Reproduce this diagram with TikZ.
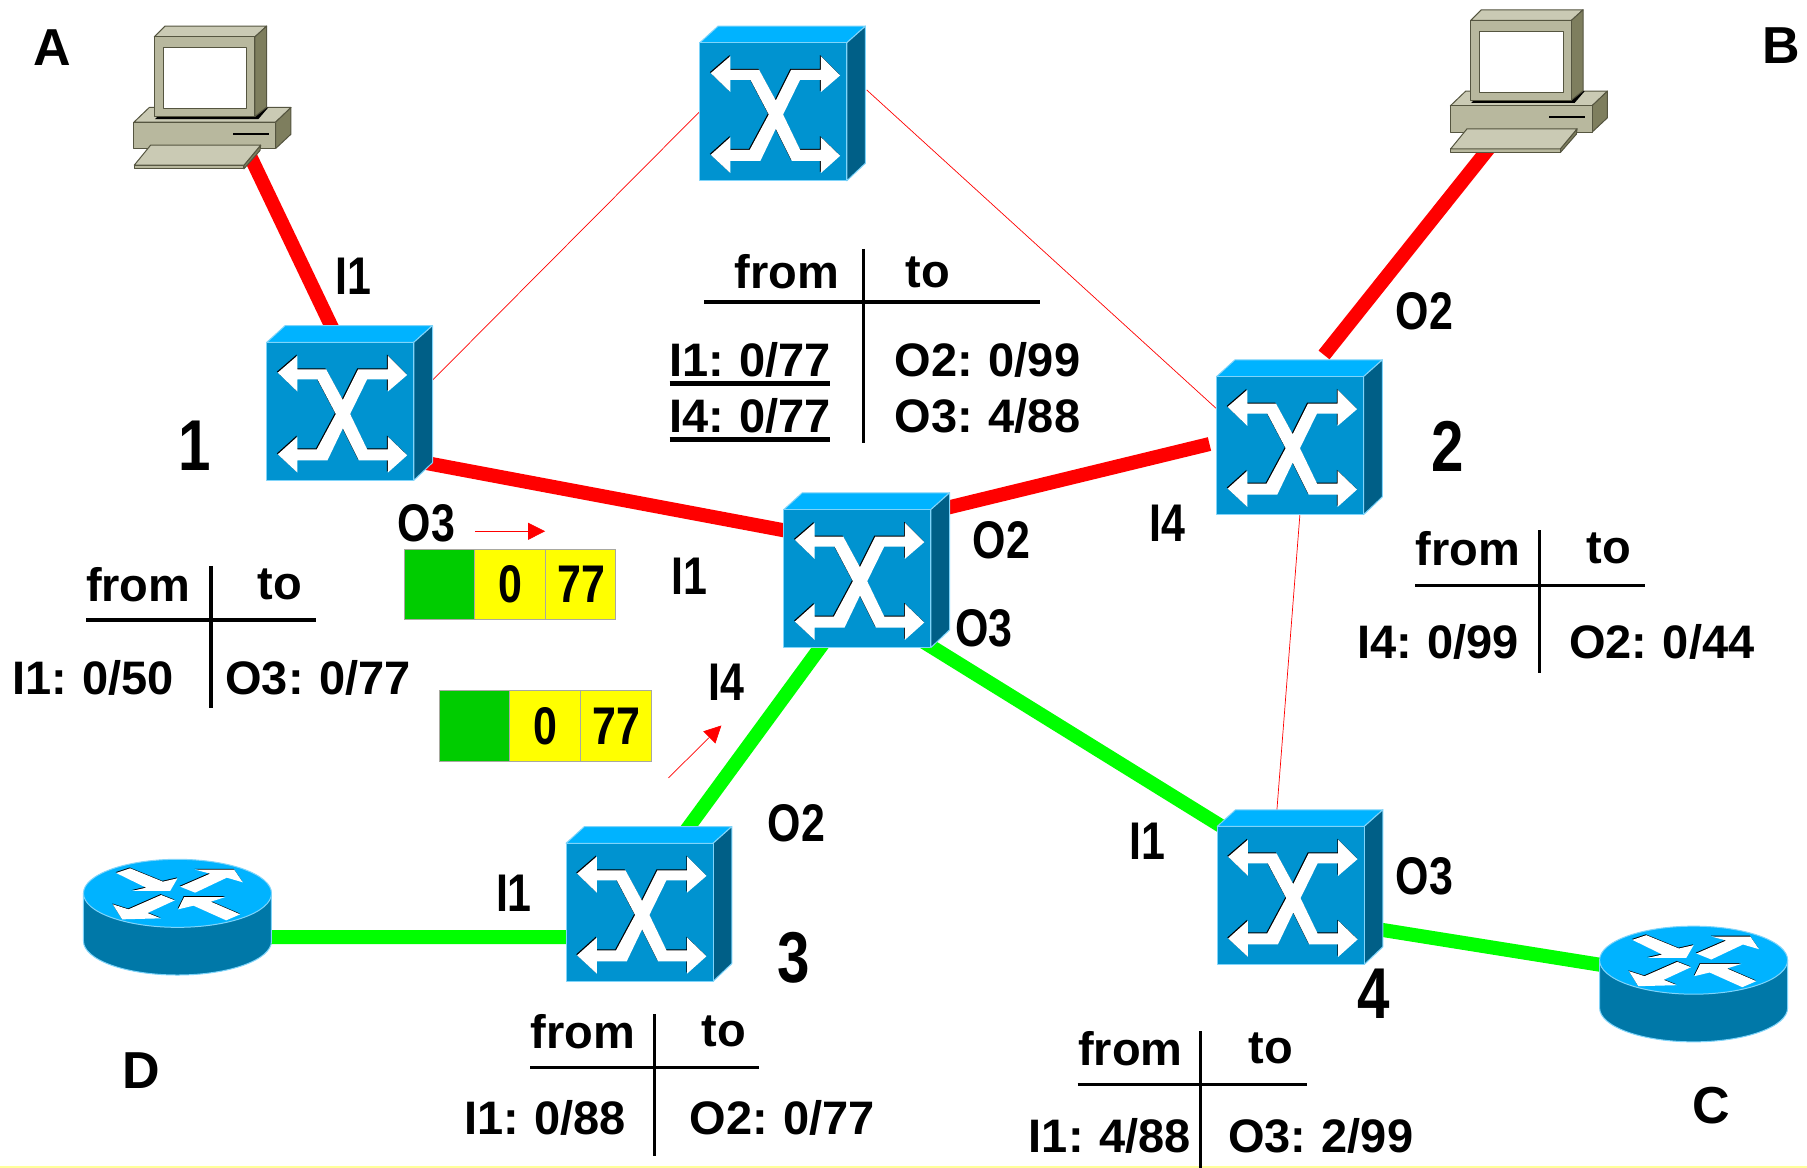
\documentclass[tikz,border=0pt]{standalone}
\usepackage{fontspec}
\usepackage{graphicx}
\setmainfont{Liberation Sans}
\usetikzlibrary{arrows.meta}
\pgfdeclarelayer{bg}
\pgfsetlayers{bg,main}
\definecolor{swfront}{HTML}{0093D0}
\definecolor{swtop}{HTML}{00B3FF}
\definecolor{swside}{HTML}{005F87}
\definecolor{swedge}{HTML}{7FD4FA}
\definecolor{rtbody}{HTML}{0078A8}
\definecolor{pctop}{HTML}{CACAB4}
\definecolor{pcfront}{HTML}{B8B89E}
\definecolor{pcside}{HTML}{7E7E5E}
\definecolor{pcedge}{HTML}{555540}
\definecolor{cellgreen}{HTML}{00CC00}
\definecolor{cellyellow}{HTML}{FFFF00}
\definecolor{cellborder}{HTML}{A8A8A0}
\definecolor{linkgreen}{HTML}{00FF00}
\definecolor{stripyellow}{HTML}{FFFF99}
\tikzset{
  iconbox/.style={inner sep=0pt,outer sep=0pt,minimum width=147pt,minimum height=138pt},
  redlink/.style={draw=red,line width=14pt},
  greenlink/.style={draw=linkgreen,line width=14pt},
  thinlink/.style={draw=red,line width=0.7pt},
  flowarrow/.style={draw=red,line width=0.7pt,-{Triangle[length=17pt,width=17pt]}},
  tablerule/.style={draw=black,line width=3.3pt},
  underrule/.style={draw=black,line width=5pt},
  cell/.style={draw=cellborder,line width=1pt,inner sep=0pt,minimum width=70.6pt,minimum height=70.6pt,font=\celltext},
  tabletext/.style={inner sep=0pt,font=\tabfont,xshift=1.1pt},
  lab/.style={inner sep=0pt,font=\labfont,xshift=1.1pt},
  bignum/.style={inner sep=0pt,font=\bigfont,xshift=1.1pt},
  corner/.style={inner sep=0pt,font=\cornerfont,xshift=0.8pt},
}
\newcommand{\tabfont}{\fontsize{47}{50}\selectfont\bfseries\spaceskip=.235em\relax}
\newcommand{\labfont}{\fontsize{53}{56}\selectfont\bfseries}
\newcommand{\celltext}{\fontsize{53}{56}\selectfont\bfseries}
\newcommand{\bigfont}{\fontsize{72}{76}\selectfont\bfseries}
\newcommand{\cornerfont}{\fontsize{52}{54}\selectfont\bfseries}
\newcommand{\sq}[1]{\scalebox{0.81}[1]{#1}}
\newcommand{\cl}[1]{\raisebox{-1.2pt}{\hspace{1pt}\scalebox{0.81}[1]{#1}}}
% switch icon drawn round a node's centre
\newcommand{\SW}[3]{%
  \node[iconbox] (#1) at (#2,#3) {};
  \begin{scope}[shift={(#2,#3)},scale=0.2893,shift={(-300.5,-334)},line join=round]
    \fill[swtop,draw=swedge,line width=1pt] (80,127)--(135,77)--(577,77)--(521,127)--cycle;
    \fill[swside,draw=swedge,line width=1pt] (521,127)--(577,77)--(577,488)--(521,541)--cycle;
    \fill[swfront,draw=swedge,line width=1pt] (80,127) rectangle (521,541);
    \fill[black,shift={(-2.5,-3)}] \swpoly;
    \fill[white] \swpoly;
  \end{scope}}
\def\swpoly{(113,218)--(172,167)--(172,208)--(258,208)--(308,300)--(354,208)--(443,208)--(443,167)--(501,225)--(443,275)--(443,238)--(381,238)--(330,342)--(381,448)--(443,448)--(443,410)--(501,466)--(443,518)--(443,481)--(356,481)--(308,385)--(262,481)--(172,481)--(172,518)--(113,463)--(172,410)--(172,448)--(230,448)--(287,342)--(232,238)--(172,238)--(172,275)--cycle}
% computer icon
\newcommand{\PC}[3]{%
  \node[inner sep=0pt,outer sep=0pt,minimum width=158pt,minimum height=143pt] (#1) at (#2,#3) {};
  \begin{scope}[shift={(#2,#3)},scale=0.2893,shift={(-308,-261)},line join=round,draw=pcedge,line width=1pt]
    \filldraw[fill=pctop] (72,335)--(118,291)--(543,291)--(497,335)--cycle;
    \filldraw[fill=pcside] (497,335)--(543,291)--(543,371)--(497,414)--cycle;
    \filldraw[fill=pcfront] (72,335) rectangle (497,414);
    \fill[black] (135,326)--(160,300)--(475,291)--(445,326)--cycle;
    \filldraw[fill=pctop] (133,79)--(165,47)--(470,47)--(435,79)--cycle;
    \filldraw[fill=pcside] (435,79)--(470,47)--(470,290)--(435,318)--cycle;
    \filldraw[fill=pcfront] (133,79) rectangle (435,318);
    \filldraw[fill=white] (160,111) rectangle (410,295);
    \fill[black] (369,367) rectangle (477,373);
    \filldraw[fill=pcside] (402,464)--(452,404)--(450,420)--(402,475)--cycle;
    \filldraw[fill=pcfront] (73,464) rectangle (402,475);
    \filldraw[fill=pctop] (73,464)--(122,404)--(452,404)--(402,464)--cycle;
  \end{scope}}
% router icon
\newcommand{\rtarrow}[1]{\fill[black,shift={(-1.5,-2.5)}] #1; \fill[white] #1;}
\newcommand{\RT}[3]{%
  \node[inner sep=0pt,outer sep=0pt,minimum width=188pt,minimum height=115pt] (#1) at (#2,#3) {};
  \begin{scope}[shift={(#2,#3)},scale=0.2893,shift={(-352,-229)},line join=round]
    \fill[rtbody,draw=swedge,line width=1pt] (70,157)--(70,300) arc[start angle=180,end angle=0,x radius=282,y radius=102]--(634,157)--cycle;
    \fill[swtop,draw=swedge,line width=1pt] (352,157) ellipse[x radius=282,y radius=102];
    \rtarrow{(168,96)--(210,82)--(308,122)--(352,112)--(330,150)--(215,150)--(258,140)--cycle}
    \rtarrow{(360,137)--(450,98)--(405,86)--(522,86)--(548,124)--(500,110)--(405,155)--cycle}
    \rtarrow{(158,190)--(205,205)--(303,162)--(344,178)--(262,216)--(302,232)--(186,235)--cycle}
    \rtarrow{(354,205)--(372,168)--(496,168)--(452,182)--(540,220)--(498,238)--(400,194)--cycle}
  \end{scope}}
\newcommand{\conn}[5][redlink]{%
  \begin{pgfonlayer}{bg}
    \draw[#1] ([shift={(#3)}]#2.center) -- ([shift={(#5)}]#4.center);
  \end{pgfonlayer}}
\begin{document}
\begin{tikzpicture}[x=1.15242pt,y=-1.15242pt]
\useasboundingbox (0,0) rectangle (1568,1013.5);
\begin{pgfonlayer}{bg}
\fill[white] (0,0) rectangle (1568,1013.5);
\fill[stripyellow] (0,1011.6) rectangle (1568,1013.5);
\end{pgfonlayer}
% icons
\PC{pca}{184.5}{84.6}
\PC{pcb}{1326.8}{70.4}
\SW{swt}{671}{97}
\SW{swa}{295.3}{356.9}
\SW{swc}{744}{502}
\SW{swb}{1119.5}{386.6}
\SW{swd}{555}{791.6}
\SW{swe}{1120}{777}
\RT{rtd}{154}{796}
\RT{rtc}{1469.6}{854}
% connectors
\conn[redlink]{pca}{29,43.4}{swa}{-2.1,-61.9}
\conn[redlink]{swa}{70,44}{swc}{-54,-40}
\conn[redlink]{swc}{71,-59.7}{swb}{-70,-1.3}
\conn[redlink]{swb}{29.4,-78.6}{pcb}{-34.3,57.5}
\conn[greenlink]{swc}{-28,54}{swd}{35,-63.6}
\conn[greenlink]{swc}{51,51}{swe}{-52,-55}
\conn[greenlink]{rtd}{76,17.2}{swd}{-55,21.6}
\conn[greenlink]{swe}{70,28.4}{rtc}{-69.6,-15}
\conn[thinlink]{swa}{80,-27}{swt}{-64,0}
\conn[thinlink]{swt}{81,-19}{swb}{-63.5,-31.6}
\conn[thinlink]{swb}{8.5,59.4}{swe}{-12,-74}
% corner letters
\node[corner] (la) at (45,41) {A};
\node[corner] (lb) at (1545,40) {B};
\node[corner] (lc) at (1484,959) {C};
\node[corner] (ld) at (122,929) {D};
% switch numbers
\node[bignum] (n1) at (168,387) {\sq{1}};
\node[bignum] (n2) at (1255,387) {\sq{2}};
\node[bignum] (n3) at (688,831) {\sq{3}};
\node[bignum] (n4) at (1191,862) {\sq{4}};
% port labels
\node[lab] (p1) at (306,240) {\sq{I1}};
\node[lab] (p2) at (1235,270) {\sq{O2}};
\node[lab] (p3) at (369,454) {\sq{O3}};
\node[lab] (p4) at (597,500) {\sq{I1}};
\node[lab] (p5) at (868,469) {\sq{O2}};
\node[lab] (p6) at (1012,454) {\sq{I4}};
\node[lab] (p7) at (853,545) {\sq{O3}};
\node[lab] (p8) at (629,592) {\sq{I4}};
\node[lab] (p9) at (690,714) {\sq{O2}};
\node[lab] (p10) at (445,775) {\sq{I1}};
\node[lab] (p11) at (995,730) {\sq{I1}};
\node[lab] (p12) at (1235,760) {\sq{O3}};
% tables
\draw[tablerule] (749,216)--(749,384) (611,262)--(902,262);
\node[tabletext] (t1a) at (682,236) {from};
\node[tabletext] (t1b) at (804,236) {to};
\node[tabletext] (t1c) at (650,312) {I1: 0/77};
\node[tabletext] (t1d) at (856,312) {O2: 0/99};
\node[tabletext] (t1e) at (650,361) {I4: 0/77};
\node[tabletext] (t1f) at (856,361) {O3: 4/88};
\draw[underrule] (581,332.5)--(720,332.5) (581,381.8)--(720,381.8);
\draw[tablerule] (183,491)--(183,614) (75,538)--(274,538);
\node[tabletext] (t2a) at (119,507) {from};
\node[tabletext] (t2b) at (242,507) {to};
\node[tabletext] (t2c) at (80,588) {I1: 0/50};
\node[tabletext] (t2d) at (275,588) {O3: 0/77};
\draw[tablerule] (1336,460)--(1336,584) (1228,508)--(1427,508);
\node[tabletext] (t3a) at (1273,476) {from};
\node[tabletext] (t3b) at (1395,476) {to};
\node[tabletext] (t3c) at (1247,557) {I4: 0/99};
\node[tabletext] (t3d) at (1441,557) {O2: 0/44};
\draw[tablerule] (568,880)--(568,1003) (460,926)--(659,926);
\node[tabletext] (t4a) at (505,895) {from};
\node[tabletext] (t4b) at (627,895) {to};
\node[tabletext] (t4c) at (472,970) {I1: 0/88};
\node[tabletext] (t4d) at (678,970) {O2: 0/77};
\draw[tablerule] (1042,895)--(1042,1013.5) (935,941)--(1134,941);
\node[tabletext] (t5a) at (980,910) {from};
\node[tabletext] (t5b) at (1102,910) {to};
\node[tabletext] (t5c) at (962,986) {I1: 4/88};
\node[tabletext] (t5d) at (1145,986) {O3: 2/99};
% label cells
\node[cell,fill=cellgreen] (c1) at (381.2,507.2) {};
\node[cell,fill=cellyellow] (c2) at (442.5,507.2) {\cl{0}};
\node[cell,fill=cellyellow] (c3) at (503.8,507.2) {\cl{77}};
\node[cell,fill=cellgreen] (c4) at (411.8,629.8) {};
\node[cell,fill=cellyellow] (c5) at (473.1,629.8) {\cl{0}};
\node[cell,fill=cellyellow] (c6) at (534.4,629.8) {\cl{77}};
% flow arrows
\coordinate (f1s) at (412,461);
\coordinate (f1e) at (473,461);
\coordinate (f2s) at (580,675);
\coordinate (f2e) at (626,629.5);
\draw[flowarrow] (f1s)--(f1e);
\draw[flowarrow] (f2s)--(f2e);
\end{tikzpicture}
\end{document}
